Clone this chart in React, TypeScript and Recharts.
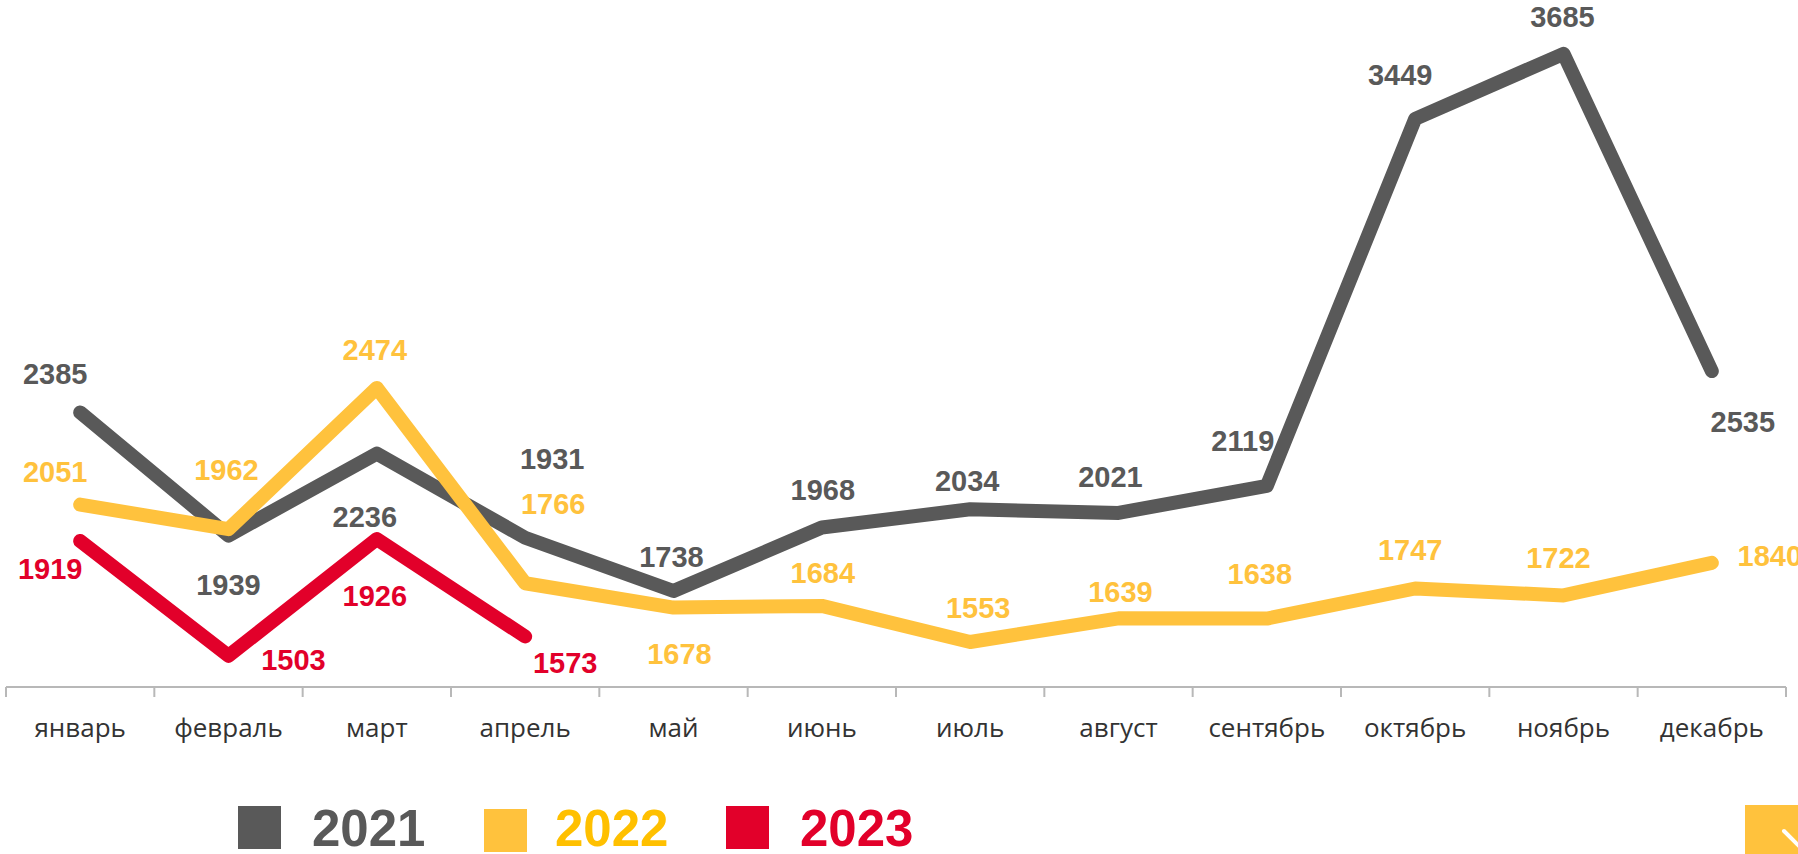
import React from 'react';
import { LineChart, Line, XAxis, YAxis, LabelList } from 'recharts';

const months = ['январь', 'февраль', 'март', 'апрель', 'май', 'июнь', 'июль', 'август', 'сентябрь', 'октябрь', 'ноябрь', 'декабрь'];
const values2021 = [2385, 1939, 2236, 1931, 1738, 1968, 2034, 2021, 2119, 3449, 3685, 2535];
const values2022 = [2051, 1962, 2474, 1766, 1678, 1684, 1553, 1639, 1638, 1747, 1722, 1840];
const values2023 = [1919, 1503, 1926, 1573];
const seriesNames = ['2021', '2022', '2023'];

// label placement (offset from the point, in px)
const labelOffsets2021 = [[-25, -38], [0, 49], [-12, 63], [27, -79], [-2, -34], [1, -38], [-3, -28], [-8, -36], [-24, -45], [-15, -44], [-1, -37], [31, 51]];
const labelOffsets2022 = [[-25, -33], [-2, -59], [-2, -38], [28, -79], [6, 46], [1, -33], [8, -34], [2, -26], [-7, -45], [-5, -39], [-5, -37], [58, -7]];
const labelOffsets2023 = [[-30, 28], [65, 4], [-2, 57], [40, 26]];

const GRAY = '#595959';
const YELLOW = '#FFC23D';
const YELLOW_TEXT = '#FFC000';
const RED = '#E2002A';

const data = months.map((m, i) => ({
  month: m,
  y2021: values2021[i],
  y2022: values2022[i],
  y2023: i < values2023.length ? values2023[i] : null,
}));

const W = 1798;
const H = 854;
const M = { top: 0, right: 12, left: 6, bottom: 107 };
const STEP = (W - M.left - M.right) / months.length;

function makeLabel(offsets: number[][], color: string) {
  return (p: any) => {
    if (p.value == null) return null;
    const x = p.x ?? p.viewBox?.x;
    const y = p.y ?? p.viewBox?.y;
    const off = offsets[p.index] || [0, -30];
    return (
      <text
        x={x + off[0]}
        y={y + off[1]}
        textAnchor="middle"
        dominantBaseline="central"
        fontFamily="'Liberation Sans', Arial, sans-serif"
        fontWeight="bold"
        fontSize={29}
        fill={color}
      >
        {p.value}
      </text>
    );
  };
}

function MonthTick(props: any) {
  const { x, y, payload, index } = props;
  const isLast = index === months.length - 1;
  return (
    <g>
      <line x1={x - STEP / 2} x2={x - STEP / 2} y1={y} y2={y + 10} stroke="#B8B8B8" strokeWidth={2} />
      {isLast && <line x1={x + STEP / 2} x2={x + STEP / 2} y1={y} y2={y + 10} stroke="#B8B8B8" strokeWidth={2} />}
      <text x={x} y={y + 50} textAnchor="middle" fontFamily="'Open Sans', sans-serif" fontSize={26} fill="#333333">
        {payload.value}
      </text>
    </g>
  );
}

const legendColors = [GRAY, YELLOW, RED];
const legendTextColors = [GRAY, YELLOW_TEXT, RED];
const legendSquareX = [0, 246, 488];
const legendTextX = [74, 317, 562];

const seriesKeys = ['y2021', 'y2022', 'y2023'];
const seriesColors = [GRAY, YELLOW, RED];
const seriesOffsets = [labelOffsets2021, labelOffsets2022, labelOffsets2023];

export default function App() {
  return (
    <div style={{ position: 'absolute', left: 0, top: 0, width: W, height: H, background: '#fff', overflow: 'hidden' }}>
      <LineChart width={W} height={H} data={data} margin={M}>
        <XAxis
          dataKey="month"
          height={60}
          padding={{ left: STEP / 2, right: STEP / 2 }}
          axisLine={{ stroke: '#B8B8B8', strokeWidth: 2 }}
          tickLine={false}
          tickSize={0}
          tickMargin={0}
          interval={0}
          tick={<MonthTick />}
        />
        <YAxis hide domain={[1390, 3880]} />
        {seriesKeys.map((k, i) => (
          <Line
            key={k}
            dataKey={k}
            name={seriesNames[i]}
            stroke={seriesColors[i]}
            strokeWidth={14}
            strokeLinecap="round"
            strokeLinejoin="round"
            dot={false}
            activeDot={false}
            legendType="none"
            isAnimationActive={false}
          />
        ))}
        {seriesKeys.map((k, i) => (
          <Line
            key={k + '-labels'}
            dataKey={k}
            stroke="none"
            strokeWidth={0}
            dot={false}
            activeDot={false}
            legendType="none"
            isAnimationActive={false}
          >
            <LabelList dataKey={k} content={makeLabel(seriesOffsets[i], seriesColors[i])} />
          </Line>
        ))}
      </LineChart>
      <svg width={720} height={60} style={{ position: 'absolute', left: 238, top: 806 }}>
        {seriesNames.map((n, i) => (
          <g key={n}>
            <rect x={legendSquareX[i]} y={i === 1 ? 3 : 0} width={43} height={43} fill={legendColors[i]} />
            <text
              x={legendTextX[i]}
              y={40}
              fontFamily="'Liberation Sans', Arial, sans-serif"
              fontWeight="bold"
              fontSize={51}
              fill={legendTextColors[i]}
            >
              {n}
            </text>
          </g>
        ))}
      </svg>
      <svg width={53} height={49} style={{ position: 'absolute', left: 1745, top: 805 }}>
        <rect x={0} y={0} width={53} height={49} fill={YELLOW} />
        <line x1={39} y1={26} x2={60} y2={47} stroke="#fff" strokeWidth={4} strokeLinecap="round" />
      </svg>
    </div>
  );
}
